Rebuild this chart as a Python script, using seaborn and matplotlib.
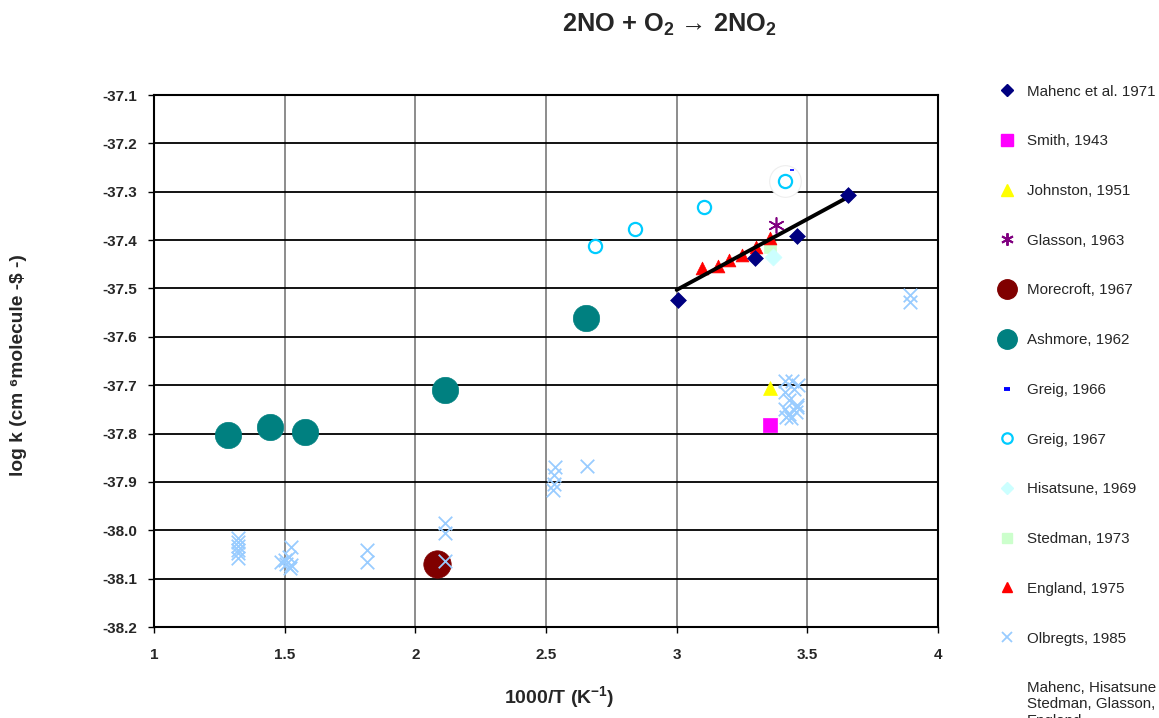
import numpy as np
import pandas as pd
import matplotlib
matplotlib.use("Agg")
import matplotlib.pyplot as plt
from matplotlib.lines import Line2D
import seaborn as sns

# ---------------- data ----------------
mahenc_x = [3.005, 3.30, 3.46, 3.656]
mahenc_y = [-37.524, -37.436, -37.392, -37.307]

smith_x = [3.357]
smith_y = [-37.782]

johnston_x = [3.357]
johnston_y = [-37.706]

glasson_x = [3.38]
glasson_y = [-37.369]

morecroft_x = [2.083]
morecroft_y = [-38.070]

ashmore_x = [1.283, 1.444, 1.578, 2.114, 2.653]
ashmore_y = [-37.803, -37.787, -37.797, -37.710, -37.561]

greig66_x = [3.44]
greig66_y = [-37.255]

greig67_x = [2.688, 2.840, 3.105, 3.415]
greig67_y = [-37.412, -37.377, -37.332, -37.278]

hisatsune_x = [3.369]
hisatsune_y = [-37.435]

stedman_x = [3.357]
stedman_y = [-37.414]

england_x = [3.097, 3.158, 3.200, 3.250, 3.304, 3.357]
england_y = [-37.458, -37.454, -37.441, -37.431, -37.414, -37.395]

olbregts_x = [1.320, 1.320, 1.320, 1.320, 1.320, 1.322,
              1.485, 1.525, 1.518, 1.505, 1.525, 1.500, 1.52,
              1.815, 1.815,
              2.115, 2.115, 2.113,
              2.535, 2.530, 2.530, 2.528, 2.657,
              3.415, 3.441, 3.464, 3.415, 3.450, 3.430, 3.460,
              3.415, 3.430, 3.455, 3.438, 3.420, 3.462,
              3.893, 3.893]
olbregts_y = [-38.016, -38.025, -38.033, -38.040, -38.046, -38.057,
              -38.066, -38.035, -38.055, -38.070, -38.072, -38.062, -38.078,
              -38.040, -38.066,
              -37.985, -38.005, -38.063,
              -37.870, -37.885, -37.905, -37.917, -37.867,
              -37.691, -37.691, -37.700, -37.715, -37.708, -37.730, -37.745,
              -37.750, -37.760, -37.755, -37.768, -37.765, -37.740,
              -37.514, -37.528]

fit_x = [3.000, 3.656]
fit_y = [-37.503, -37.311]

x_ticks = [1, 1.5, 2, 2.5, 3, 3.5, 4]
x_ticklabels = ["1", "1.5", "2", "2.5", "3", "3.5", "4"]
y_ticks = [-37.1, -37.2, -37.3, -37.4, -37.5, -37.6, -37.7, -37.8, -37.9, -38.0, -38.1, -38.2]
y_ticklabels = ["-37.1", "-37.2", "-37.3", "-37.4", "-37.5", "-37.6", "-37.7",
                "-37.8", "-37.9", "-38.0", "-38.1", "-38.2"]

# ---------------- style ----------------
sns.set_theme(style="white")
plt.rcParams['font.family'] = ['Liberation Sans', 'DejaVu Sans']
plt.rcParams['mathtext.fontset'] = 'custom'
plt.rcParams['mathtext.rm'] = 'Liberation Sans:bold'
plt.rcParams['mathtext.bf'] = 'Liberation Sans:bold'
plt.rcParams['mathtext.it'] = 'Liberation Sans:bold'
plt.rcParams['mathtext.default'] = 'bf'

W, H = 1159, 718
fig = plt.figure(figsize=(W / 100, H / 100), dpi=100)
ax = fig.add_axes([154 / W, 1 - 627 / H, (938 - 154) / W, (627 - 95) / H])
ax.set_facecolor("white")

# grid
for xv in x_ticks[1:-1]:
    ax.axvline(xv, color="#8c8c8c", lw=1.4, zorder=0)
for yv in y_ticks[1:-1]:
    ax.axhline(yv, color="#000000", lw=1.3, zorder=0)

# ---------------- marks ----------------
sns.scatterplot(x=ashmore_x, y=ashmore_y, marker="o", s=360, color="#008080",
                edgecolor="#008080", linewidth=0.5, ax=ax, zorder=3)
sns.scatterplot(x=morecroft_x, y=morecroft_y, marker="o", s=390, color="#800000",
                edgecolor="#800000", linewidth=0.5, ax=ax, zorder=3)
sns.scatterplot(x=olbregts_x, y=olbregts_y, marker="x", s=95, color="#99CCFF",
                linewidth=1.3, ax=ax, zorder=6)
sns.scatterplot(x=smith_x, y=smith_y, marker="s", s=110, color="#FF00FF",
                edgecolor="#FF00FF", linewidth=0.5, ax=ax, zorder=4)
sns.scatterplot(x=johnston_x, y=johnston_y, marker="^", s=100, color="#FFFF00",
                edgecolor="#FFFF00", linewidth=0.5, ax=ax, zorder=4)
sns.scatterplot(x=stedman_x, y=stedman_y, marker="s", s=70, color="#CCFFCC",
                edgecolor="#CCFFCC", linewidth=0.5, ax=ax, zorder=4)
sns.scatterplot(x=england_x, y=england_y, marker="^", s=85, color="#FF0000",
                edgecolor="#FF0000", linewidth=0.5, ax=ax, zorder=4)
sns.scatterplot(x=hisatsune_x, y=hisatsune_y, marker="D", s=75, color="#CCFFFF",
                edgecolor="#CCFFFF", linewidth=0.5, ax=ax, zorder=4)
sns.lineplot(x=fit_x, y=fit_y, color="black", lw=2.8, ax=ax, zorder=5)
sns.scatterplot(x=mahenc_x, y=mahenc_y, marker="D", s=65, color="#000080",
                edgecolor="#000080", linewidth=0.5, ax=ax, zorder=7)
sns.scatterplot(x=glasson_x, y=glasson_y, marker=(6, 2, 0), s=120, color="#800080",
                linewidth=1.2, ax=ax, zorder=7)
sns.scatterplot(x=greig67_x[-1:], y=greig67_y[-1:], marker="o", s=520, facecolor="white",
                edgecolor="#eeeeee", linewidth=0.8, ax=ax, zorder=6.5)
sns.scatterplot(x=greig67_x, y=greig67_y, marker="o", s=90, facecolor="white",
                edgecolor="#00CCFF", linewidth=1.6, ax=ax, zorder=7)
sns.scatterplot(x=greig66_x, y=greig66_y, marker="_", s=10, color="#0000FF",
                linewidth=1.2, ax=ax, zorder=8)

# ---------------- axes ----------------
ax.set_xlim(1, 4)
ax.set_ylim(-38.2, -37.1)
ax.set_xticks(x_ticks)
ax.set_xticklabels(x_ticklabels, fontsize=11, fontweight="bold")
ax.set_yticks(y_ticks)
ax.set_yticklabels(y_ticklabels, fontsize=11, fontweight="bold")
ax.tick_params(axis="both", direction="out", length=4, width=1, color="black",
               bottom=True, left=True)
ax.tick_params(axis="x", pad=11)
ax.tick_params(axis="y", pad=8)
for sp in ax.spines.values():
    sp.set_color("black")
    sp.set_linewidth(1.5)
    sp.set_visible(True)

ax.set_xlabel("1000/T (K$^{-1}$)", fontsize=14, fontweight="bold")
ax.xaxis.set_label_coords((559 - 154) / 784, -(684 - 627) / 532)
ax.set_ylabel("log k (cm \u2076molecule -$ -)", fontsize=13.8, fontweight="bold",
              parse_math=False)
ax.yaxis.set_label_coords(-(154 - 27) / 784, (627 - 365) / 532)
fig.text(669 / W, 1 - 25 / H, "2NO + O$_2$ \u2192 2NO$_2$", ha="center",
         va="center", fontsize=18.3, fontweight="bold")

# ---------------- legend ----------------
handles = [
    Line2D([], [], ls="none", marker="D", ms=6, color="#000080"),
    Line2D([], [], ls="none", marker="s", ms=8, color="#FF00FF"),
    Line2D([], [], ls="none", marker="^", ms=9, color="#FFFF00"),
    Line2D([], [], ls="none", marker=(6, 2, 0), ms=9, color="#800080", mew=1.4),
    Line2D([], [], ls="none", marker="o", ms=14, color="#800000"),
    Line2D([], [], ls="none", marker="o", ms=14, color="#008080"),
    Line2D([], [], ls="none", marker="_", ms=5, color="#0000FF", mew=2.8),
    Line2D([], [], ls="none", marker="o", ms=7.5, mfc="white", mec="#00CCFF", mew=1.6),
    Line2D([], [], ls="none", marker="D", ms=6, color="#CCFFFF"),
    Line2D([], [], ls="none", marker="s", ms=7.5, color="#CCFFCC"),
    Line2D([], [], ls="none", marker="^", ms=7.5, color="#FF0000"),
    Line2D([], [], ls="none", marker="x", ms=7.5, color="#99CCFF", mew=1.3),
    Line2D([], [], ls="none", marker=None, color="white"),
]
labels = ["Mahenc et al. 1971", "Smith, 1943", "Johnston, 1951", "Glasson, 1963",
          "Morecroft, 1967", "Ashmore, 1962", "Greig, 1966", "Greig, 1967",
          "Hisatsune, 1969", "Stedman, 1973", "England, 1975", "Olbregts, 1985",
          "Mahenc, Hisatsune\nStedman, Glasson,\nEngland"]
fig.legend(handles, labels, loc="upper left", bbox_to_anchor=(998 / W, 1 - 84.5 / H),
           frameon=False, fontsize=10.9, borderpad=0, borderaxespad=0,
           handlelength=1.2, handletextpad=0.73, labelspacing=2.36)

fig.savefig("out.png", dpi=100)
